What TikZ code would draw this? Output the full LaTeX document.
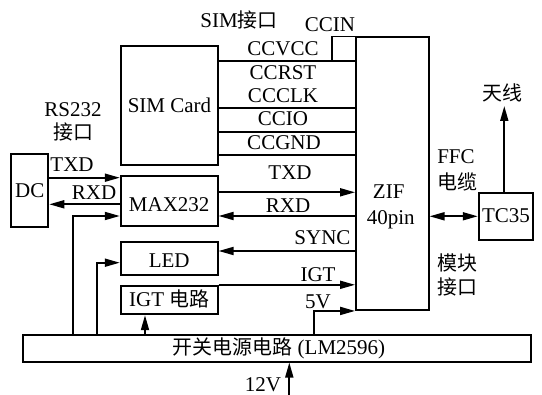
\documentclass[tikz,border=0pt]{standalone}
\usepackage{fontspec}
\setmainfont{Liberation Serif}
\newfontfamily\cjk[Scale=0.95]{Noto Sans CJK SC}
\usetikzlibrary{arrows.meta,calc}
\begin{document}
\begin{tikzpicture}[x=1pt,y=-1pt,
  font=\fontsize{21}{25}\selectfont,
  box/.style={draw,line width=1.8pt,inner sep=0pt,minimum width=#1},
  lbl/.style={inner sep=0pt},
  wire/.style={line width=1.8pt},
  arr/.style={line width=1.8pt,-{Triangle[length=15pt,width=8pt]}},
  barr/.style={line width=1.8pt,{Triangle[length=15pt,width=8pt]}-{Triangle[length=15pt,width=8pt]}}]
\useasboundingbox (0,0) rectangle (542,395);
% boxes
\node[box=97.6pt,minimum height=119.3pt] (sim) at (169.5,105.3) {SIM Card};
\node[box=72.7pt,minimum height=272.7pt] (zif) at (392.3,173.7) {};
\node[box=37.3pt,minimum height=72.4pt] (dc) at (29.7,190.5) {DC};
\node[box=97pt,minimum height=50.3pt] (max) at (169.2,200.9) {};
\node[box=97pt,minimum height=33.3pt] (led) at (169.2,258.3) {};
\node[box=97pt,minimum height=28.6pt] (igt) at (169.2,300) {};
\node[box=54.3pt,minimum height=47.3pt] (tc) at (505.8,216.3) {};
\node[box=508.3pt,minimum height=26.7pt] (pwr) at (276.8,348.3) {};
% box texts
\node[lbl] (maxt) at (169.2,205) {MAX232};
\node[lbl] (ledt) at (169.2,261) {LED};
\node[lbl] (igtt) at (169.2,299) {IGT {\cjk 电路}};
\node[lbl] (tct) at (506,216) {TC35};
\node[lbl] (pwrt) at (279,348) {{\cjk 开关电源电路} (LM2596)};
\node[lbl] (zift) at (388.7,191.7) {ZIF};
\node[lbl] (zifp) at (390.8,220) {40pin};
% SIM wires
\foreach \yy in {61,107.7,131.7,155}
  \draw[wire] (sim.east |- 0,\yy) -- (zif.west |- 0,\yy);
\coordinate (ccin) at (332.3,61);
\draw[wire] (ccin) |- (zif.north west);
% labels
\node[lbl] (simif) at (239,20) {SIM{\cjk 接口}};
\node[lbl] (ccinl) at (330,25) {CCIN};
\node[lbl] at (283,49) {CCVCC};
\node[lbl] at (283,73) {CCRST};
\node[lbl] at (283,96) {CCCLK};
\node[lbl] at (283,119) {CCIO};
\node[lbl] at (284,143) {CCGND};
\node[lbl] at (73,110) {RS232};
\node[lbl] at (73,132) {\cjk 接口};
\node[lbl] at (72,165) {TXD};
\node[lbl] at (94,193) {RXD};
\node[lbl] at (290,173) {TXD};
\node[lbl] at (288,206) {RXD};
\node[lbl] at (322.5,238) {SYNC};
\node[lbl] at (318,275) {IGT};
\node[lbl] at (318,301.7) {5V};
\node[lbl] at (456,157) {FFC};
\node[lbl] at (457,182) {\cjk 电缆};
\node[lbl] at (457,263) {\cjk 模块};
\node[lbl] at (457,287) {\cjk 接口};
\node[lbl] at (502,93) {\cjk 天线};
\node[lbl] at (263,385) {12V};
% connectors
\draw[arr] (dc.east |- 0,177.7) -- (max.west |- 0,177.7);
\draw[arr] (max.west |- 0,204.3) -- (dc.east |- 0,204.3);
\draw[arr] (max.east |- 0,192.3) -- (zif.west |- 0,192.3);
\draw[arr] (zif.west |- 0,216) -- (max.east |- 0,216);
\draw[arr] (zif.west |- 0,251) -- (led.east |- 0,251);
\draw[arr] (igt.north east) -- (zif.west |- igt.north east);
\draw[arr] (pwr.north -| 314.3,0) |- (zif.south west);
\draw[arr] (pwr.north -| 73.3,0) |- (max.west |- 0,216);
\draw[arr] (pwr.north -| 96.7,0) |- (led.west |- 0,262.7);
\draw[arr] (pwr.north -| 145,0) -- (igt.south -| 145,0);
\coordinate (v12) at (289.3,395);
\draw[arr] (v12) -- (pwr.south -| v12);
\draw[barr] (zif.east |- tc.west) -- (tc.west);
\coordinate (ant) at (504.3,106);
\draw[arr] (tc.north -| ant) -- (ant);
\end{tikzpicture}
\end{document}
